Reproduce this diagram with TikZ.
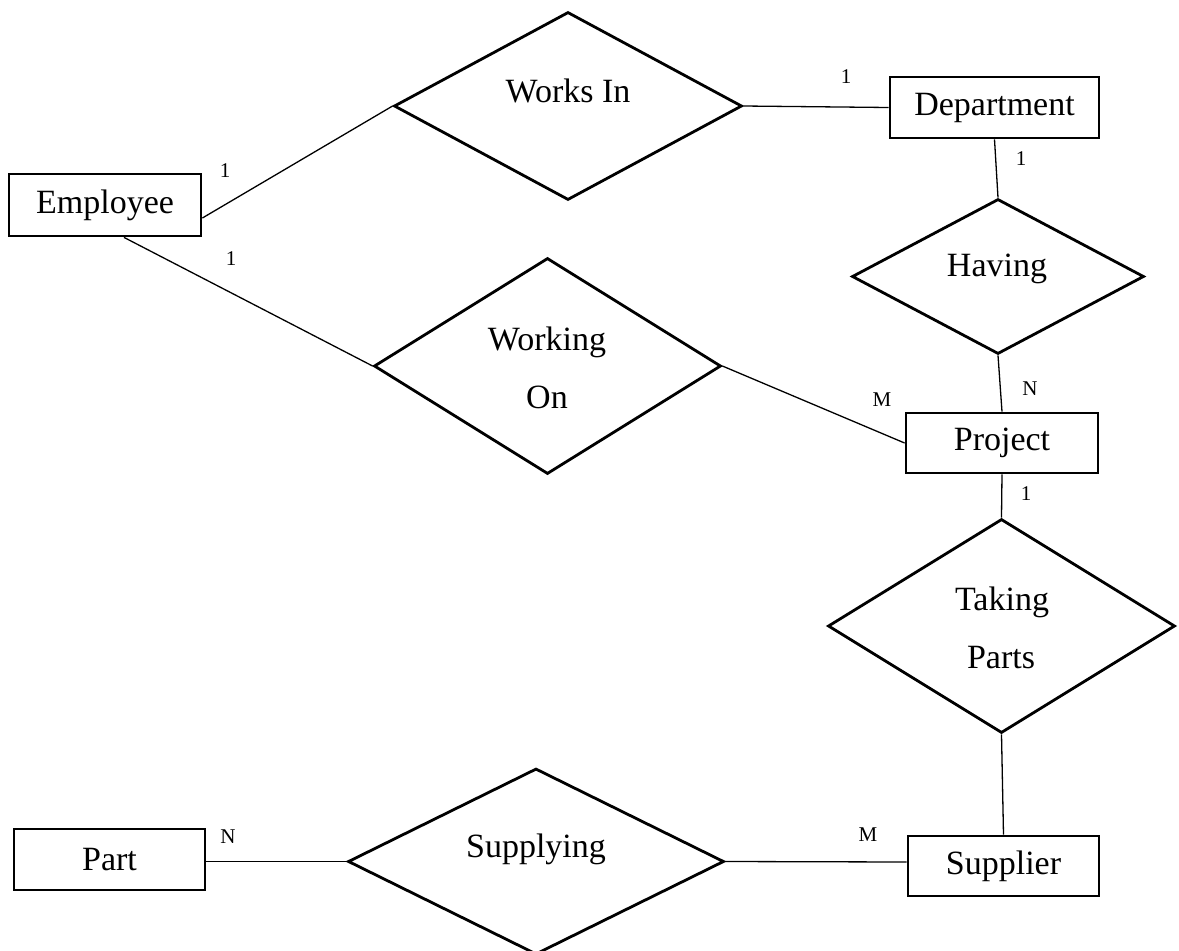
\documentclass[tikz,border=0pt]{standalone}
\usepackage{fontspec}
\setmainfont{Liberation Serif}
\usetikzlibrary{shapes.geometric}
\begin{document}
\begin{tikzpicture}[x=1pt,y=-1pt,
  entity/.style={draw, line width=2.8pt, rectangle, inner sep=0pt,
                 font=\fontsize{34}{40}\selectfont},
  relation/.style={draw, line width=2.8pt, diamond, inner sep=0pt},
  rtext/.style={anchor=base, inner sep=0pt, font=\fontsize{34}{40}\selectfont},
  card/.style={inner sep=0pt, font=\fontsize{21}{25}\selectfont},
  link/.style={line width=1.3pt}]
\useasboundingbox (0,0) rectangle (1179,951);

% entity sets
\node[entity, minimum width=192, minimum height=62] (emp)  at (105,205)     {Employee};
\node[entity, minimum width=209, minimum height=61] (dept) at (994.5,107.5) {Department};
\node[entity, minimum width=192, minimum height=60] (proj) at (1002,443)    {Project};
\node[entity, minimum width=191, minimum height=61] (part) at (109.5,859.5) {Part};
\node[entity, minimum width=191, minimum height=60] (sup)  at (1003.5,866)  {Supplier};

% relationships
\node[relation, minimum width=348, minimum height=188] (works) at (568,106)    {};
\node[relation, minimum width=292, minimum height=155] (hav)   at (998,276.5)  {};
\node[relation, minimum width=347, minimum height=216] (wo)    at (547.5,366)  {};
\node[relation, minimum width=347, minimum height=214] (tp)    at (1001.5,626) {};
\node[relation, minimum width=376, minimum height=186] (supl)  at (536,861.5)  {};

% relationship names
\node[rtext] (worksT) at (568,102)  {Works In};
\node[rtext] (havT)   at (997,276)  {Having};
\node[rtext] (woTa)   at (547,350)  {Working};
\node[rtext] (woTb)   at (547,408)  {On};
\node[rtext] (tpTa)   at (1002,610) {Taking};
\node[rtext] (tpTb)   at (1001,668) {Parts};
\node[rtext] (suplT)  at (536,857)  {Supplying};

% connectors
\draw[link] ([yshift=-13pt]emp.east) -- (works.west);
\draw[link] ([xshift=19pt]emp.south) -- (wo.west);
\draw[link] (works.east) -- (dept.west);
\draw[link] (dept.south) -- (hav.north);
\draw[link] (hav.south) -- (proj.north);
\draw[link] (wo.east) -- (proj.west);
\draw[link] (proj.south) -- (tp.north);
\draw[link] (tp.south) -- (sup.north);
\draw[link] ([yshift=-2pt]part.east) -- (supl.west);
\draw[link] (supl.east) -- ([yshift=4pt]sup.west);

% cardinalities
\node[card] (c1) at (225,171)  {1};
\node[card] (c2) at (231,259)  {1};
\node[card] (c3) at (846,77)   {1};
\node[card] (c4) at (1021,159) {1};
\node[card] (c5) at (1030,389) {N};
\node[card] (c6) at (882,400)  {M};
\node[card] (c7) at (1026,494) {1};
\node[card] (c8) at (228,837)  {N};
\node[card] (c9) at (868,835)  {M};
\end{tikzpicture}
\end{document}
